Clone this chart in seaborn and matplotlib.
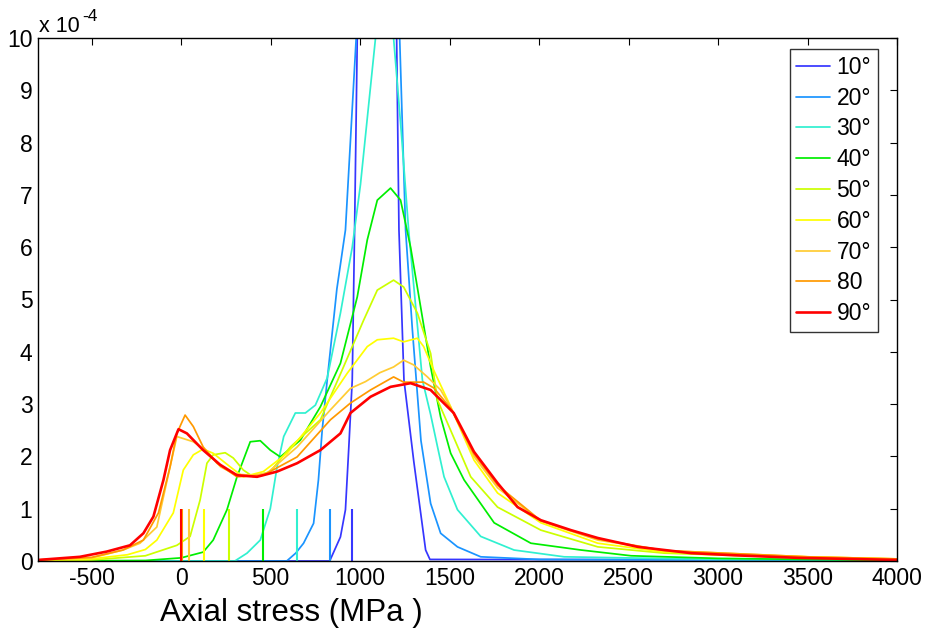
import matplotlib
matplotlib.use("Agg")
import matplotlib.pyplot as plt
import seaborn as sns

# Axial stress (MPa) / density (x 1e-4), one curve per angle
x10 = [-800, 830, 890, 918, 937, 956, 969, 984, 1050, 1110, 1170, 1204, 1217, 1245, 1300, 1366, 1390, 4000]
y10 = [0.0, 0.0, 0.46, 0.98, 2.19, 3.46, 6.33, 10.0, 18.0, 22.0, 16.0, 10.0, 6.33, 3.46, 1.9, 0.21, 0.03, 0.02]

x20 = [-800, 590, 640, 684, 740, 767, 788, 816, 870, 918, 978, 1050, 1110, 1170, 1221, 1254, 1292,
       1340, 1394, 1450, 1544, 1674, 2000, 3000, 4000]
y20 = [0.0, 0.0, 0.15, 0.34, 0.72, 1.55, 2.5, 3.46, 5.2, 6.33, 10.0, 13.5, 15.0, 13.0, 10.0, 6.33, 4.42,
       2.3, 1.1, 0.53, 0.27, 0.08, 0.03, 0.02, 0.01]

x30 = [-800, 300, 368, 442, 498, 536, 573, 638, 694, 750, 816, 890, 956, 1002, 1086, 1140, 1187, 1230,
       1271, 1348, 1394, 1432, 1469, 1544, 1674, 1860, 2140, 3000, 4000]
y30 = [0.0, 0.0, 0.15, 0.4, 1.0, 1.8, 2.38, 2.83, 2.83, 2.98, 3.5, 4.74, 6.0, 7.2, 10.0, 10.4, 10.0, 8.2,
       6.33, 3.46, 2.8, 2.19, 1.61, 0.98, 0.47, 0.21, 0.08, 0.03, 0.02]

x40 = [-800, -200, 0, 123, 179, 256, 312, 386, 442, 498, 554, 666, 778, 890, 984, 1040, 1096, 1170,
       1226, 1282, 1338, 1394, 1450, 1506, 1581, 1749, 1954, 2234, 2514, 3000, 3500, 4000]
y40 = [0.0, 0.01, 0.06, 0.17, 0.4, 0.98, 1.61, 2.28, 2.3, 2.12, 1.99, 2.31, 2.95, 3.78, 5.05, 6.14, 6.9, 7.13,
       6.9, 6.0, 4.86, 3.71, 2.75, 2.06, 1.55, 0.73, 0.34, 0.21, 0.1, 0.05, 0.03, 0.01]

x50 = [-800, -500, -200, -24, 50, 106, 144, 179, 246, 291, 347, 403, 498, 610, 778, 907, 1019, 1096,
       1187, 1243, 1320, 1394, 1432, 1488, 1618, 1768, 2010, 2328, 2700, 3500, 4000]
y50 = [0.0, 0.02, 0.1, 0.3, 0.47, 1.17, 1.87, 2.03, 2.07, 1.97, 1.74, 1.61, 1.71, 2.18, 2.7, 3.71, 4.6, 5.18,
       5.37, 5.24, 4.74, 3.97, 3.08, 2.64, 1.61, 1.03, 0.59, 0.27, 0.15, 0.06, 0.03]

x60 = [-800, -500, -300, -200, -136, -44, 12, 68, 123, 179, 274, 347, 459, 592, 778, 928, 1040, 1096,
       1187, 1243, 1320, 1355, 1411, 1506, 1636, 1768, 2010, 2328, 2700, 3500, 4000]
y60 = [0.01, 0.04, 0.12, 0.22, 0.4, 0.92, 1.74, 2.03, 2.14, 2.06, 1.8, 1.61, 1.71, 2.06, 2.83, 3.59, 4.1, 4.23,
       4.26, 4.19, 4.26, 4.1, 3.65, 2.95, 1.93, 1.3, 0.73, 0.34, 0.17, 0.08, 0.04]

x70 = [-800, -500, -325, -230, -136, -62, -24, 68, 144, 220, 300, 400, 480, 648, 834, 946, 1030, 1110,
       1187, 1243, 1299, 1376, 1450, 1506, 1636, 1768, 2010, 2328, 2700, 3500, 4000]
y70 = [0.02, 0.06, 0.21, 0.34, 0.65, 1.8, 2.38, 2.28, 2.1, 1.8, 1.66, 1.64, 1.68, 2.18, 2.89, 3.3, 3.43, 3.6,
       3.71, 3.84, 3.75, 3.52, 3.27, 2.94, 2.0, 1.4, 0.76, 0.4, 0.2, 0.08, 0.04]

x80 = [-800, -500, -325, -211, -127, -62, -24, 22, 68, 123, 200, 312, 459, 648, 834, 946, 1058, 1187,
       1243, 1355, 1411, 1506, 1636, 1768, 2010, 2328, 2700, 3500, 4000]
y80 = [0.02, 0.07, 0.21, 0.4, 0.92, 1.8, 2.44, 2.79, 2.57, 2.18, 1.87, 1.61, 1.64, 1.99, 2.7, 3.02, 3.27, 3.52,
       3.42, 3.42, 3.31, 2.92, 2.05, 1.45, 0.77, 0.42, 0.2, 0.08, 0.04]

x90 = [-800, -566, -416, -286, -211, -155, -99, -62, -15, 32, 123, 218, 312, 424, 536, 648, 778, 890,
       946, 1058, 1170, 1282, 1394, 1467, 1523, 1636, 1768, 1880, 2010, 2178, 2328, 2552, 2850, 3091, 3448, 4000]
y90 = [0.02, 0.08, 0.18, 0.3, 0.53, 0.85, 1.55, 2.12, 2.52, 2.44, 2.12, 1.84, 1.64, 1.61, 1.71, 1.87, 2.12, 2.44,
       2.83, 3.14, 3.33, 3.4, 3.27, 3.02, 2.83, 2.09, 1.49, 1.03, 0.78, 0.59, 0.44, 0.27, 0.15, 0.11, 0.06, 0.02]

labels = ["10°", "20°", "30°", "40°", "50°", "60°", "70°", "80", "90°"]
colors = ["#3636ff", "#1a94ff", "#30f0d0", "#00ee00", "#ccff00", "#ffff00", "#ffcc33", "#ff9900", "#ff0000"]
xs = [x10, x20, x30, x40, x50, x60, x70, x80, x90]
ys = [y10, y20, y30, y40, y50, y60, y70, y80, y90]

# short vertical markers (mean stress per angle), drawn from 0 to 1
marker_x = [956, 829, 648, 455, 269, 129, 41, 6, 0]
marker_top = 1.0

xticks = list(range(-500, 4001, 500))
yticks = list(range(0, 11))

sns.set_style("white")
plt.rcParams["font.family"] = ["Liberation Sans", "DejaVu Sans"]
plt.rcParams["axes.unicode_minus"] = False
plt.rcParams["text.color"] = "black"
plt.rcParams["xtick.color"] = "black"
plt.rcParams["ytick.color"] = "black"

W, H = 927, 632
fig = plt.figure(figsize=(W / 100, H / 100), dpi=100)
ax = fig.add_axes([38 / W, 1 - 561 / H, (897 - 38) / W, (561 - 38) / H])

for lab, x, y, c in zip(labels, xs, ys, colors):
    lw = 1.9 if lab == "90°" else 1.25
    sns.lineplot(x=x, y=y, color=c, lw=lw, label=lab, ax=ax, estimator=None, sort=False)

for mx, c in zip(marker_x, colors):
    ax.vlines(mx, 0, marker_top, color=c, lw=1.5)

ax.set_xlim(-800, 4000)
ax.set_ylim(0, 10)
ax.set_xticks(xticks)
ax.set_yticks(yticks)
ax.tick_params(direction="in", top=True, right=True, length=5, width=0.8,
               labelsize=16.5, pad=4, color="black", labelcolor="black")
for s in ax.spines.values():
    s.set_visible(True)
    s.set_color("black")
    s.set_linewidth(1.0)
ax.set_xlabel("")
ax.set_ylabel("")

# MATLAB-style exponent label
fig.text(39 / W, 1 - 32 / H, "x 10", fontsize=15.5, ha="left", va="baseline")
fig.text(82 / W, 1 - 21 / H, "-4", fontsize=12.5, ha="left", va="baseline")
fig.text(160 / W, 1 - 621 / H, "Axial stress (MPa )", fontsize=22.5, ha="left", va="baseline")

leg = ax.legend(loc="upper right", bbox_to_anchor=(878 / W, 1 - 49 / H),
                bbox_transform=fig.transFigure, fontsize=16.5, frameon=True, fancybox=False,
                edgecolor="black", handlelength=1.45, labelspacing=0.34,
                borderaxespad=0.0, handletextpad=0.3, borderpad=0.3)
leg.get_frame().set_linewidth(1.0)
for t in leg.get_texts():
    t.set_color("black")

fig.savefig("out.png", dpi=100)
